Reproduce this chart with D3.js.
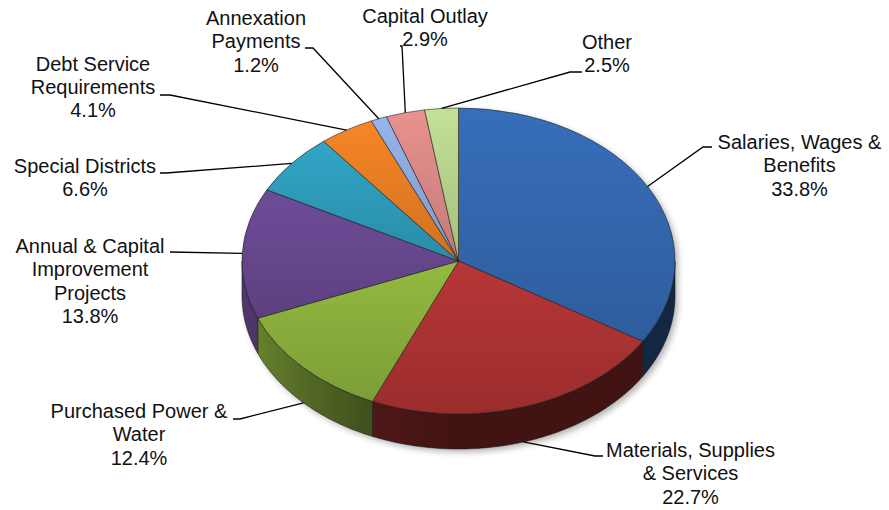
<!DOCTYPE html>
<html>
<head>
<meta charset="utf-8">
<script src="https://cdn.jsdelivr.net/npm/d3@7"></script>
<style>
  body { margin: 0; background: #fff; }
  svg { display: block; }
  text { font-family: "Liberation Sans", Arial, sans-serif; font-size: 20px; fill: #111; }
</style>
</head>
<body>
<svg id="chart" width="889" height="510"></svg>
<script>
// Budget shares by category (percent of total)
const categories = [
  "Salaries, Wages & Benefits",
  "Materials, Supplies & Services",
  "Purchased Power & Water",
  "Annual & Capital Improvement Projects",
  "Special Districts",
  "Debt Service Requirements",
  "Annexation Payments",
  "Capital Outlay",
  "Other"
];
const shares = [33.8, 22.7, 12.4, 13.8, 6.6, 4.1, 1.2, 2.9, 2.5];
const labelLines = [
  ["Salaries, Wages &", "Benefits"],
  ["Materials, Supplies", "& Services"],
  ["Purchased Power &", "Water"],
  ["Annual & Capital", "Improvement", "Projects"],
  ["Special Districts"],
  ["Debt Service", "Requirements"],
  ["Annexation", "Payments"],
  ["Capital Outlay"],
  ["Other"]
];
const colors = ["#3367AE", "#AC3232", "#8AAE3C", "#67478E", "#2E9BBA",
                "#E77D24", "#8DA9DC", "#D98886", "#B6D28C"];

// Label placement: text centre x, first baseline y, and the leader's label-side points
const labelLayout = [
  { x: 799.5, y: 149,  lead: [[712, 147], [703, 147]] },
  { x: 690.5, y: 457,  lead: [[603, 456], [595, 456]] },
  { x: 139,   y: 418,  lead: [[233, 419], [240, 419]] },
  { x: 90,    y: 253,  lead: [[170, 252]] },
  { x: 85,    y: 173,  lead: [[160, 173], [166, 173]] },
  { x: 93,    y: 70.5, lead: [[160, 95], [170, 95]] },
  { x: 256,   y: 25,   lead: [[305, 48], [313, 48]] },
  { x: 425,   y: 22.5, lead: [[400, 46], [402, 46]] },
  { x: 607,   y: 49,   lead: [[582, 72], [570, 72]] }
];

// Pie geometry: elliptical top face plus an extruded rim
const cx = 458.5, cy = 261, rx = 216.5, ry = 153, depth = 35;
const lineHeight = 23.3;

const svg = d3.select("#chart");
const defs = svg.append("defs");

const pie = d3.pie().sort(null).value(d => d)(shares);

function scaleColor(hex, k) {
  const c = d3.rgb(hex);
  return d3.rgb(Math.min(255, c.r * k), Math.min(255, c.g * k), Math.min(255, c.b * k)).formatHex();
}
const px = a => cx + rx * Math.sin(a);
const py = a => cy - ry * Math.cos(a);

// Soft shadow beneath the pie
const shadow = defs.append("filter").attr("id", "shadow")
  .attr("x", "-10%").attr("y", "-10%").attr("width", "120%").attr("height", "130%");
shadow.append("feGaussianBlur").attr("stdDeviation", 3);

// Gradients: top faces shade vertically, rims shade left-to-right
pie.forEach((p, i) => {
  const g = defs.append("linearGradient").attr("id", "top" + i)
    .attr("x1", 0).attr("y1", 0).attr("x2", 0).attr("y2", 1);
  g.append("stop").attr("offset", 0).attr("stop-color", scaleColor(colors[i], 1.07));
  g.append("stop").attr("offset", 1).attr("stop-color", scaleColor(colors[i], 0.9));

  const s = defs.append("linearGradient").attr("id", "side" + i)
    .attr("gradientUnits", "userSpaceOnUse")
    .attr("x1", cx - rx).attr("y1", 0).attr("x2", cx + rx).attr("y2", 0);
  [[0, 0.78], [0.15, 0.6], [0.3, 0.46], [0.5, 0.38], [1, 0.38]].forEach(([o, k]) => {
    s.append("stop").attr("offset", o).attr("stop-color", scaleColor(colors[i], k));
  });
});

const line = d3.line();

// Silhouette shadow
const silhouette = d3.range(0, 181).map(t => {
  const a = Math.PI / 2 + (t / 180) * Math.PI;
  return [px(a), py(a) + depth];
}).concat(d3.range(0, 181).map(t => {
  const a = -Math.PI / 2 + (t / 180) * Math.PI;
  return [px(a), py(a)];
}));
svg.append("path")
  .attr("d", line(silhouette) + "Z")
  .attr("transform", "translate(3,3)")
  .attr("fill", "#000").attr("opacity", 0.3)
  .attr("filter", "url(#shadow)");

// Rims: only the front half of the pie shows its side
const front0 = Math.PI / 2, front1 = 3 * Math.PI / 2;
const sides = svg.append("g");
pie.forEach((p, i) => {
  const a0 = Math.max(p.startAngle, front0), a1 = Math.min(p.endAngle, front1);
  if (a1 <= a0) return;
  const n = Math.max(4, Math.ceil((a1 - a0) / 0.01));
  const topEdge = d3.range(n + 1).map(k => {
    const a = a0 + (a1 - a0) * k / n;
    return [px(a), py(a)];
  });
  const bottomEdge = topEdge.slice().reverse().map(([x, y]) => [x, y + depth]);
  sides.append("path")
    .attr("d", line(topEdge.concat(bottomEdge)) + "Z")
    .attr("fill", `url(#side${i})`)
    .attr("stroke", "#1a1a1a").attr("stroke-width", 0.7).attr("stroke-opacity", 0.8)
    .attr("stroke-linejoin", "round");
});

// Top faces: circular arcs squashed into the ellipse
const arc = d3.arc().innerRadius(0).outerRadius(rx);
svg.append("g")
  .attr("transform", `translate(${cx},${cy}) scale(1,${ry / rx})`)
  .selectAll("path")
  .data(pie)
  .join("path")
  .attr("d", arc)
  .attr("fill", (d, i) => `url(#top${i})`)
  .attr("stroke", "#1a1a1a").attr("stroke-width", 0.7).attr("stroke-opacity", 0.8)
  .attr("stroke-linejoin", "round")
  .attr("vector-effect", "non-scaling-stroke");

// Leader lines from each label to its slice
const leaders = svg.append("g");
pie.forEach((p, i) => {
  const m = (p.startAngle + p.endAngle) / 2;
  const anchor = [px(m), py(m) + (Math.cos(m) < 0 ? depth : 0)];
  const pts = labelLayout[i].lead.concat([anchor]);
  leaders.append("path")
    .attr("d", line(pts))
    .attr("fill", "none").attr("stroke", "#000").attr("stroke-width", 1.3);
});

// Labels: category name lines followed by the percentage
const labels = svg.append("g").attr("text-anchor", "middle");
pie.forEach((p, i) => {
  const lines = labelLines[i].concat([d3.format(".1f")(shares[i]) + "%"]);
  const t = labels.append("text")
    .attr("x", labelLayout[i].x).attr("y", labelLayout[i].y);
  lines.forEach((s, k) => {
    t.append("tspan").attr("x", labelLayout[i].x).attr("dy", k === 0 ? 0 : lineHeight).text(s);
  });
});
</script>
</body>
</html>
